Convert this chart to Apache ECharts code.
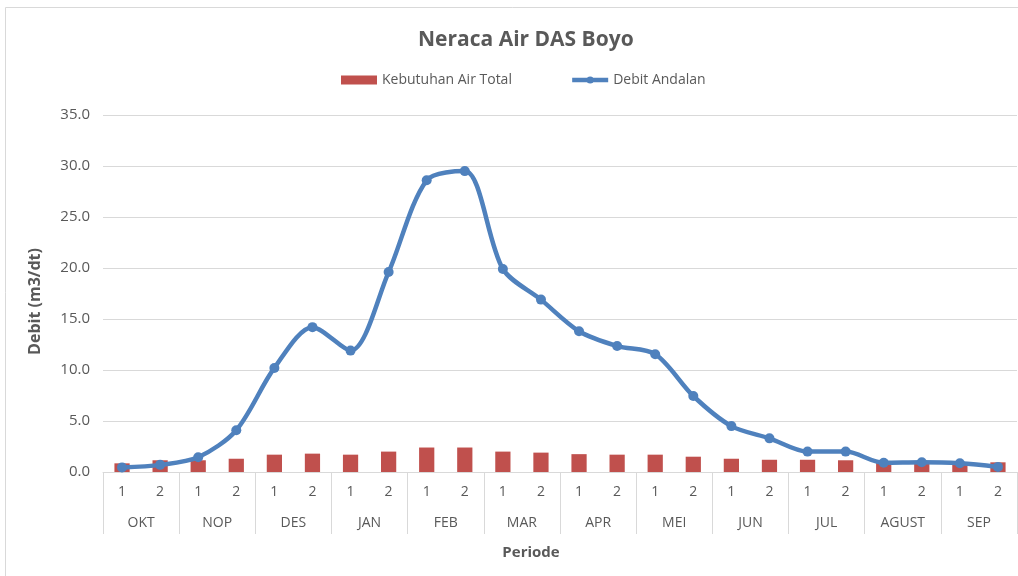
<!DOCTYPE html>
<html>
<head>
<meta charset="utf-8">
<script src="https://cdn.jsdelivr.net/npm/echarts@6/dist/echarts.min.js"></script>
<style>html,body{margin:0;padding:0;background:#fff}#c{width:1018px;height:576px}</style>
</head>
<body>
<div id="c"></div>
<script>
const months = ['OKT','NOP','DES','JAN','FEB','MAR','APR','MEI','JUN','JUL','AGUST','SEP'];
const halves = ['1','2'];
const kebutuhan = [0.85,1.15,1.15,1.3,1.7,1.8,1.7,2.0,2.4,2.4,2.0,1.9,1.75,1.7,1.7,1.5,1.3,1.2,1.2,1.15,0.95,0.95,0.95,0.95];
const debit = [0.45,0.7,1.45,4.1,10.2,14.2,11.9,19.6,28.6,29.5,19.9,16.9,13.8,12.35,11.55,7.45,4.5,3.3,2.0,2.0,0.9,0.95,0.85,0.5];
const yTicks = {min:0, max:35, interval:5};

const periods = [];
months.forEach(m => halves.forEach(h => periods.push(h)));

const font = '"Open Sans", Lato, sans-serif';
const chart = echarts.init(document.getElementById('c'));
chart.setOption({
  animation: false,
  textStyle: {fontFamily: font},
  graphic: [{type:'rect', shape:{x:5.5,y:7.5,width:1030,height:600}, style:{fill:'none', stroke:'#d9d9d9', lineWidth:1}, silent:true}],
  title: {text:'Neraca Air DAS Boyo', left:413, top:25, textStyle:{fontFamily:font, fontSize:21, fontWeight:'bold', color:'#595959'}},
  legend: {top:68, left:336, itemWidth:36, itemHeight:9, itemGap:58,
    textStyle:{fontFamily:font, fontSize:14, color:'#595959'},
    data:[{name:'Kebutuhan Air Total', icon:'rect'},
          {name:'Debit Andalan', lineStyle:{width:4.5, color:'#4f81bd'}, itemStyle:{color:'#4f81bd'}}]},
  grid: {left:103, right:1, top:115, bottom:104},
  xAxis: [
    {type:'category', data:periods, position:'bottom',
     axisLine:{show:true, lineStyle:{color:'#d9d9d9'}},
     axisTick:{show:false},
     axisLabel:{interval:0, margin:13, fontSize:14, color:'#595959', fontFamily:font}},
    {type:'category', data:months, position:'bottom', boundaryGap:true,
     axisLine:{show:false},
     axisTick:{show:true, interval:0, length:62, lineStyle:{color:'#d9d9d9'}},
     axisLabel:{interval:0, margin:44, fontSize:14, color:'#595959', fontFamily:font},
     name:'Periode', nameLocation:'middle', nameGap:73,
     nameTextStyle:{fontFamily:font, fontSize:15, fontWeight:'bold', color:'#595959', padding:[0,58,0,0]}}
  ],
  yAxis: {type:'value', min:yTicks.min, max:yTicks.max, interval:yTicks.interval,
    axisLine:{show:false}, axisTick:{show:false},
    splitLine:{lineStyle:{color:'#d9d9d9'}},
    axisLabel:{formatter:v=>v.toFixed(1), fontSize:15, color:'#595959', margin:13, fontFamily:font},
    name:'Debit (m3/dt)', nameLocation:'middle', nameGap:60,
    nameTextStyle:{fontFamily:font, fontSize:16, fontWeight:'bold', color:'#595959', padding:[0,16,0,0]}},
  series: [
    {name:'Kebutuhan Air Total', type:'bar', data:kebutuhan, barWidth:'40%', xAxisIndex:0,
     itemStyle:{color:'#c0504d'}},
    {name:'Debit Andalan', type:'line', data:debit, xAxisIndex:0, smooth:0.3,
     symbol:'circle', symbolSize:10,
     lineStyle:{color:'#4f81bd', width:4.5}, itemStyle:{color:'#4f81bd'}}
  ]
});
</script>
</body>
</html>
